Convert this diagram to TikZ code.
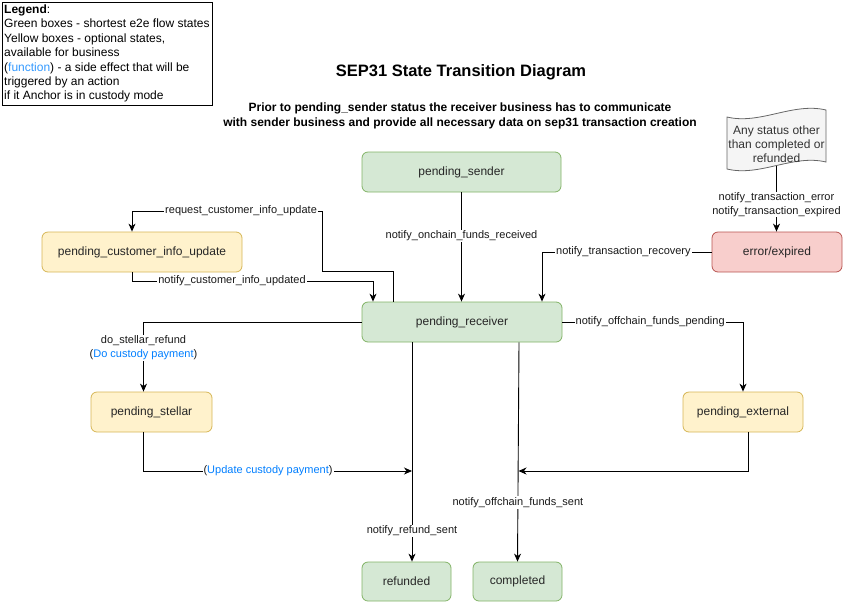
\documentclass[tikz,border=0pt]{standalone}
\usepackage{fontspec}
\setmainfont{Liberation Sans}
\usetikzlibrary{arrows.meta,calc}
\definecolor{gfill}{HTML}{D5E8D4}
\definecolor{gline}{HTML}{82B366}
\definecolor{yfill}{HTML}{FFF2CC}
\definecolor{yline}{HTML}{D6B656}
\definecolor{rfill}{HTML}{F8CECC}
\definecolor{rline}{HTML}{B85450}
\definecolor{tfill}{HTML}{F5F5F5}
\definecolor{tline}{HTML}{666666}
\definecolor{ttext}{HTML}{333333}
\definecolor{fblue}{HTML}{007FFF}
\definecolor{lblue}{HTML}{3399FF}
\begin{document}
\begin{tikzpicture}[x=1pt,y=-1pt,
  state/.style={rounded corners=6pt, minimum height=40pt, inner sep=0pt,
    font=\fontsize{12}{14}\selectfont, text=black!85, line width=0.8pt},
  green/.style={state, draw=gline, fill=gfill},
  yellow/.style={state, draw=yline, fill=yfill},
  red/.style={state, draw=rline, fill=rfill},
  conn/.style={draw=black, line width=0.9pt, -{Stealth[length=8pt,width=7pt,inset=2.5pt]}},
  lbl/.style={font=\fontsize{11}{13.5}\selectfont, fill=white, inner sep=1pt, text=black!90, align=center}
]
\useasboundingbox (0,0) rectangle (845,603);

% legend
\draw[draw=black, line width=0.9pt] (2,2) rectangle (212,105);
\node[anchor=north west, inner sep=0pt, align=left,
  font=\fontsize{12}{14.4}\selectfont] (legend) at (4,4.5)
  {\textbf{Legend}:\\Green boxes - shortest e2e flow states\\Yellow boxes - optional states,\\available for business\\(\textcolor{lblue}{function}) - a side effect that will be\\triggered by an action\\if it Anchor is in custody mode};

% titles
\node[font=\bfseries\fontsize{16.5}{19}\selectfont] (title) at (461,72) {SEP31 State Transition Diagram};
\node[font=\bfseries\fontsize{12}{15}\selectfont, align=center] (sub) at (460,115.5)
  {Prior to pending\_sender status the receiver business has to communicate\\with sender business and provide all necessary data on sep31 transaction creation};

% states
\node[green, minimum width=199pt] (ps) at (461.5,172) {pending\_sender};
\node[green, minimum width=200pt] (prc) at (462,322) {pending\_receiver};
\node[yellow, minimum width=200pt] (pcu) at (142,252) {pending\_customer\_info\_update};
\node[red, minimum width=130pt] (err) at (777,252) {error/expired};
\node[yellow, minimum width=121pt] (pst) at (151.5,412) {pending\_stellar};
\node[yellow, minimum width=120pt] (pex) at (743,412) {pending\_external};
\node[green, minimum width=89pt, minimum height=39pt] (ref) at (406.5,581.5) {refunded};
\node[green, minimum width=89pt, minimum height=39pt] (cmp) at (517.5,581.5) {completed};

% tape shape
\draw[draw=tline, fill=tfill, line width=0.8pt]
  (727,117) .. controls (760,125) and (793,102) .. (826,110)
  -- (826,162) .. controls (793,154) and (760,177) .. (727,169) -- cycle;
\node[align=center, text=ttext, font=\fontsize{12}{14}\selectfont, inner sep=0pt] (tapetext) at (776.5,144)
  {Any status other\\than completed or\\refunded};
\coordinate (tape) at (776.5,165.5);

% junction points
\coordinate (j1) at (412,471);
\coordinate (j2) at (518.5,471);

% connectors
\draw[conn] (ps.south) -- node[lbl, pos=0.4] {notify\_onchain\_funds\_received} (ps.south |- prc.north);
\draw[conn] (err.west) -- node[lbl, pos=0.52] {notify\_transaction\_recovery} (542,252) -- ([xshift=80pt]prc.north);
\draw[conn] ([xshift=-69pt]prc.north) -- (393,271) -- (322,271) -- (322,211)
  -- node[lbl, pos=0.426] {request\_customer\_info\_update} (132,211) -- ([xshift=-10pt]pcu.north);
\draw[conn] ([xshift=-10pt]pcu.south) -- (132,281)
  -- node[lbl, pos=0.415] {notify\_customer\_info\_updated} (373,281) -- ([xshift=-89pt]prc.north);
\draw[conn] (prc.west) -- (143.5,322)
  -- node[lbl, pos=0.37] {do\_stellar\_refund\\(\textcolor{fblue}{Do custody payment})} ([xshift=-8pt]pst.north);
\draw[conn] ([xshift=-8pt]pst.south) -- (143.5,471)
  -- node[lbl, pos=0.464] {(\textcolor{fblue}{Update custody payment})} (j1);
\draw[conn] ([xshift=-50pt]prc.south) -- node[lbl, pos=0.86] {notify\_refund\_sent} ([xshift=5.5pt]ref.north);
\draw[conn] ([xshift=57pt]prc.south) -- node[lbl, pos=0.73] {notify\_offchain\_funds\_sent} (cmp.north);
\draw[conn] (prc.east) -- node[lbl, pos=0.486] {notify\_offchain\_funds\_pending} (743,322) -- (pex.north);
\draw[conn] ([xshift=5pt]pex.south) -- (748,471) -- (j2);
\draw[conn] (tape) -- node[lbl, pos=0.59] {notify\_transaction\_error\\notify\_transaction\_expired} (tape |- err.north);
\end{tikzpicture}
\end{document}
